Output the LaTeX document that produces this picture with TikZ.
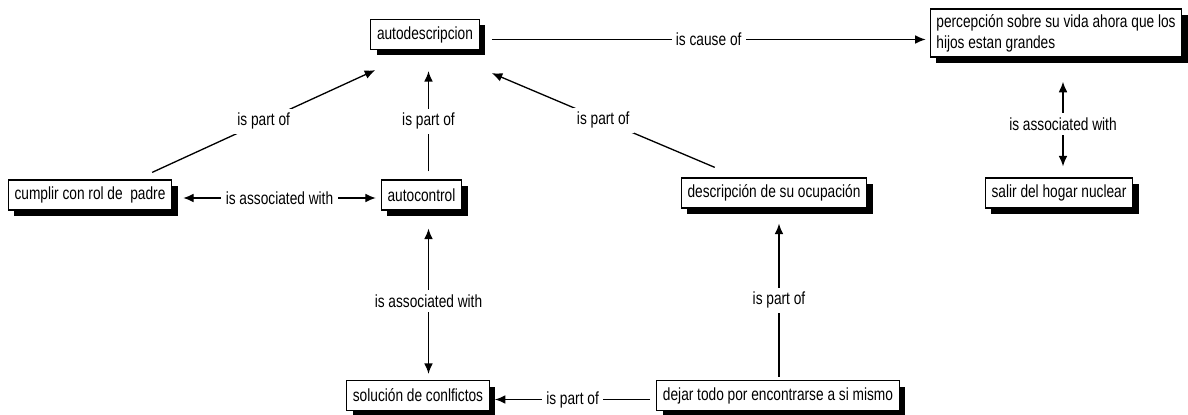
\documentclass[tikz,border=0pt]{standalone}
\usepackage{fontspec}
\setmainfont{Liberation Sans}[FakeStretch=0.78]
\usepackage{tikz}
\usetikzlibrary{arrows, arrows.meta, shadows, positioning, calc}
\tikzset{
    concept/.style={
        rectangle,
        draw=black,
        line width=0.7pt,
        fill=white,
        inner xsep=3.5pt,
        inner ysep=3pt,
        minimum height=0.6cm,
        font=\fontsize{10}{12}\selectfont,
        drop shadow={shadow xshift=0.12cm, shadow yshift=-0.12cm, opacity=1, fill=black},
    },
    link/.style={
        fill=white,
        inner sep=2.5pt,
        font=\fontsize{10}{12}\selectfont,
    },
    arrow/.style={
        -{Latex[length=6pt,width=5pt]},
        line width=0.75pt,
    },
    biarrow/.style={
        {Latex[length=6pt,width=5pt]}-{Latex[length=6pt,width=5pt]},
        line width=0.75pt,
    },
}

\begin{document}
\begin{tikzpicture}[x=0.02cm, y=-0.02cm]
      \useasboundingbox (0,0) rectangle (1188,415);

      \node[concept] (autodesc) at (425,34.5) {autodescripcion};

      \node[concept, align=left] (percep) at (1056,33) {percepción sobre su vida ahora que los\\hijos estan grandes};

      \node[concept] (cumplir) at (90,195) {cumplir con rol de\ \ padre};

      \node[concept] (autocontrol) at (421.5,195) {autocontrol};

      \node[concept] (descr) at (774,193) {descripción de su ocupación};

      \node[concept] (salir) at (1059,193) {salir del hogar nuclear};

      \node[concept] (solucion) at (418,395.5) {solución de conlfictos};

      \node[concept] (dejar) at (778,395.5) {dejar todo por encontrarse a si mismo};

      \draw[arrow] ($(cumplir.north east)+(-20,-7)$) -- node[link]{is part of} ($(autodesc.south west)+(5,20)$);
      \draw[arrow] ($(autocontrol.north)+(7,-8)$) -- node[link]{is part of} ($(autocontrol.north |- autodesc.south)+(7,21)$);
      \draw[arrow] ($(descr.north west)+(34,-10)$) -- node[link]{is part of} ($(autodesc.south east)+(12,23)$);
      \draw[arrow] ($(autodesc.east)+(12,5)$) -- node[link]{is cause of} ($(percep.west |- autodesc.east)+(-4,5)$);
      \draw[biarrow] ($(salir.north)+(4,-11)$) -- node[link]{is associated with} ($(salir.north |- percep.south)+(4,24)$);
      \draw[biarrow] ($(cumplir.east)+(11,3)$) -- node[link]{is associated with} ($(autocontrol.west |- cumplir.east)+(-5,3)$);
      \draw[biarrow] ($(autocontrol.south)+(7,18)$) -- node[link]{is associated with} ($(autocontrol.south |- solucion.north)+(7,-6)$);
      \draw[arrow] ($(dejar.north)+(1,-3)$) -- node[link]{is part of} ($(dejar.north |- descr.south)+(1,15)$);
      \draw[arrow] ($(dejar.west)+(-6,4)$) -- node[link]{is part of} ($(solucion.east |- dejar.west)+(5,4)$);

    \end{tikzpicture}
\end{document}
